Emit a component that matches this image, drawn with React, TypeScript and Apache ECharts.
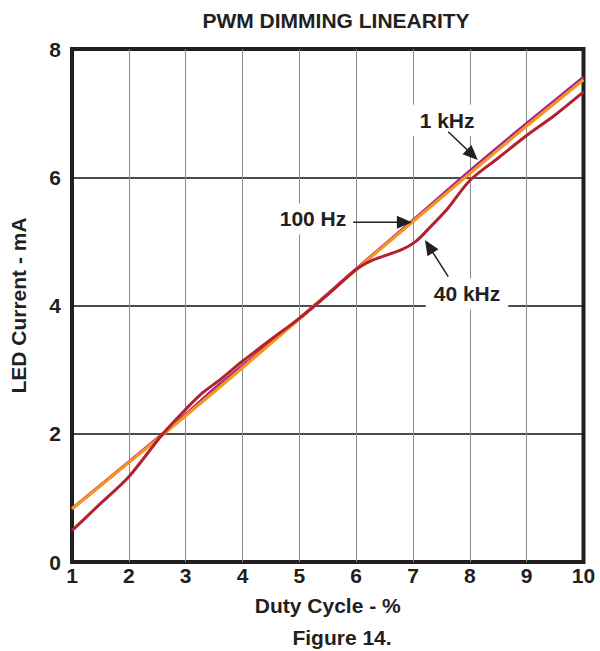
import React, { useEffect, useRef } from "react";
import * as echarts from "echarts";

// ---- Data ----
const hz100X = [1, 2, 3, 4, 5, 6, 7, 8, 9, 10];
const hz100Y = [0.83, 1.55, 2.28, 3.03, 3.79, 4.56, 5.31, 6.06, 6.8, 7.52];

const khz1X = [1, 2, 3, 3.5, 4, 5, 6, 7, 8, 9, 10];
const khz1Y = [0.83, 1.56, 2.3, 2.7, 3.06, 3.8, 4.57, 5.33, 6.1, 6.84, 7.56];

const khz40X = [1, 1.5, 2, 2.6, 3, 3.3, 3.6, 4, 4.5, 5, 5.5, 6, 6.3, 6.8, 7.05, 7.3, 7.6, 8, 8.5, 9, 9.5, 10];
const khz40Y = [0.49, 0.91, 1.33, 2.0, 2.38, 2.64, 2.84, 3.13, 3.47, 3.8, 4.17, 4.56, 4.71, 4.87, 5.0, 5.22, 5.5, 5.95, 6.3, 6.65, 6.97, 7.33];

const seriesNames = ["1 kHz", "100 Hz", "40 kHz"];

// annotation anchors in data coordinates
const annoTexts = ["1 kHz", "100 Hz", "40 kHz"];
const annoLabelPos = [[7.6, 6.89], [5.24, 5.35], [7.95, 4.18]];
const annoArrowFrom = [[7.62, 6.71], [5.95, 5.3], [7.62, 4.45]];
const annoArrowTo = [[8.14, 6.27], [6.98, 5.3], [7.21, 5.02]];

const FONT = '"Liberation Sans", Arial, Helvetica, sans-serif';
const INK = "#231f20";
const FS = 21;

const zip = (xs: number[], ys: number[]) => xs.map((x, i) => [x, ys[i]]);

export default function App() {
  const ref = useRef<HTMLDivElement>(null);

  useEffect(() => {
    if (!ref.current) return;
    document.body.style.margin = "0";
    const chart = echarts.init(ref.current, null, { renderer: "svg" });
    const option: any = {
      animation: false,
      backgroundColor: "#ffffff",
      title: [
        {
          text: "PWM DIMMING LINEARITY",
          left: 336,
          top: 10,
          padding: 0,
          textAlign: "center",
          textStyle: { fontFamily: FONT, fontWeight: "bold", fontSize: FS, color: INK },
        },
        {
          text: "Figure 14.",
          left: 342,
          top: 627,
          padding: 0,
          textAlign: "center",
          textStyle: { fontFamily: FONT, fontWeight: "bold", fontSize: FS, color: INK },
        },
      ],
      grid: {
        left: 71.5,
        right: 16.5,
        top: 49,
        bottom: 89,
        show: true,
        borderWidth: 4,
        borderColor: INK,
        backgroundColor: "transparent",
      },
      xAxis: {
        type: "value",
        min: 1,
        max: 10,
        interval: 1,
        name: "Duty Cycle - %",
        nameLocation: "middle",
        nameGap: 33,
        nameTextStyle: { fontFamily: FONT, fontWeight: "bold", fontSize: FS, color: INK },
        axisLine: { show: false },
        axisTick: { show: false },
        axisLabel: { fontFamily: FONT, fontWeight: "bold", fontSize: FS, color: INK, margin: 3 },
        splitLine: { show: true, showMinLine: false, showMaxLine: false, lineStyle: { color: "#8a8a8a", width: 1 } },
      },
      yAxis: {
        type: "value",
        min: 0,
        max: 8,
        interval: 2,
        name: "LED Current - mA",
        nameLocation: "middle",
        nameGap: 43,
        nameTextStyle: { fontFamily: FONT, fontWeight: "bold", fontSize: FS, color: INK },
        axisLine: { show: false },
        axisTick: { show: false },
        axisLabel: { fontFamily: FONT, fontWeight: "bold", fontSize: FS, color: INK, margin: 11 },
        splitLine: { show: true, showMinLine: false, showMaxLine: false, lineStyle: { color: "#111111", width: 1.5 } },
      },
      series: [
        {
          name: seriesNames[0],
          type: "line",
          data: zip(khz1X, khz1Y),
          smooth: 0.3,
          symbol: "none",
          lineStyle: { color: "#a3238e", width: 3 },
          z: 2,
        },
        {
          name: seriesNames[1],
          type: "line",
          data: zip(hz100X, hz100Y),
          smooth: 0.3,
          symbol: "none",
          lineStyle: { color: "#f7941e", width: 3.2 },
          z: 3,
        },
        {
          name: seriesNames[2],
          type: "line",
          data: zip(khz40X, khz40Y),
          smooth: 0.3,
          symbol: "none",
          lineStyle: { color: "#b2222e", width: 3 },
          z: 4,
        },
      ],
    };
    chart.setOption(option);

    const px = (p: number[]) => chart.convertToPixel({ gridIndex: 0 }, p) as number[];
    const graphics: any[] = [];
    annoTexts.forEach((txt, i) => {
      const c = px(annoLabelPos[i]);
      const s = px(annoArrowFrom[i]);
      const t = px(annoArrowTo[i]);
      graphics.push({
        type: "text",
        x: c[0],
        y: c[1],
        z: 100,
        style: {
          text: txt,
          fontFamily: FONT,
          fontWeight: "bold",
          fontSize: FS,
          fill: INK,
          align: "center",
          verticalAlign: "middle",
          backgroundColor: "#ffffff",
          padding: [5, 8],
        },
      });
      const dx = t[0] - s[0];
      const dy = t[1] - s[1];
      const len = Math.hypot(dx, dy);
      const ux = dx / len;
      const uy = dy / len;
      const headLen = 15;
      const headW = 6.5;
      const bx = t[0] - ux * headLen;
      const by = t[1] - uy * headLen;
      graphics.push({
        type: "line",
        z: 100,
        shape: { x1: s[0], y1: s[1], x2: bx + ux * 2, y2: by + uy * 2 },
        style: { stroke: INK, lineWidth: 1.5 },
      });
      graphics.push({
        type: "polygon",
        z: 100,
        shape: {
          points: [
            [t[0], t[1]],
            [bx - uy * headW, by + ux * headW],
            [bx + uy * headW, by - ux * headW],
          ],
        },
        style: { fill: INK },
      });
    });
    chart.setOption({ graphic: graphics });

    return () => chart.dispose();
  }, []);

  return (
    <div
      ref={ref}
      style={{ position: "fixed", left: 0, top: 0, width: 600, height: 651 }}
    />
  );
}
